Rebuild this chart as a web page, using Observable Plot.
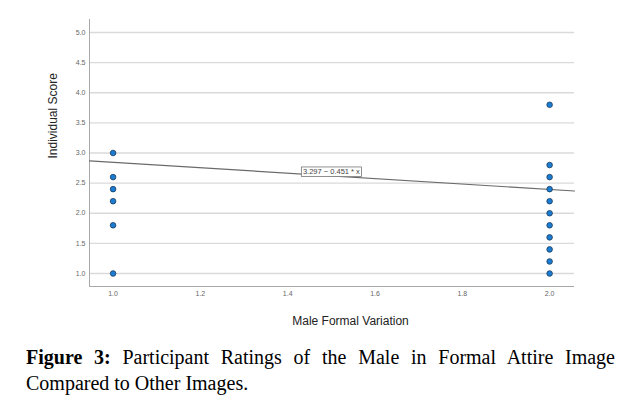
<!DOCTYPE html>
<html>
<head>
<meta charset="utf-8">
<script src="https://cdn.jsdelivr.net/npm/d3@7"></script>
<script src="https://cdn.jsdelivr.net/npm/@observablehq/plot@0.6"></script>
<style>
  body { margin: 0; background: #fff; width: 627px; height: 409px; position: relative; overflow: hidden; }
  #chart { position: absolute; left: 0; top: 0; }
  #caption { position: absolute; left: 26px; top: 343.5px; width: 589px; font-family: "Liberation Serif", "Times New Roman", serif; font-size: 20px; line-height: 26px; text-align: justify; color: #000; }
</style>
</head>
<body>
<div id="chart"></div>
<div id="caption"><b>Figure 3:</b> Participant Ratings of the Male in Formal Attire Image Compared to Other Images.</div>
<script>
// Data
const groupX = [1, 1, 1, 1, 1, 1, 2, 2, 2, 2, 2, 2, 2, 2, 2, 2, 2];
const scores = [3.0, 2.6, 2.4, 2.2, 1.8, 1.0, 3.8, 2.8, 2.6, 2.4, 2.2, 2.0, 1.8, 1.6, 1.4, 1.2, 1.0];
const fitIntercept = 3.297;
const fitSlope = -0.451;
const fitLabel = "3.297 − 0.451 * x";
const fitLabelX = 1.5;
const xTicks = [1.0, 1.2, 1.4, 1.6, 1.8, 2.0];
const yTicks = [1.0, 1.5, 2.0, 2.5, 3.0, 3.5, 4.0, 4.5, 5.0];
const xDomain = [0.946, 2.057];
const yDomain = [0.784, 5.216];

const points = groupX.map((x, i) => ({x, y: scores[i]}));
const fit = x => fitIntercept + fitSlope * x;
const fitLine = xDomain.map(x => ({x, y: fit(x)}));

const plot = Plot.plot({
  width: 627,
  height: 340,
  marginLeft: 89,
  marginRight: 53,
  marginTop: 19,
  marginBottom: 54,
  style: {fontFamily: "'Liberation Sans', Arial, sans-serif", background: "#fff"},
  x: {domain: xDomain, ticks: xTicks, tickFormat: d3.format(".1f")},
  y: {domain: yDomain, ticks: yTicks, tickFormat: d3.format(".1f")},
  marks: [
    Plot.ruleY(yTicks, {stroke: "#dadada", strokeWidth: 1.3}),
    Plot.ruleX([xDomain[0]], {stroke: "#a8a8a8", strokeWidth: 1}),
    Plot.ruleY([yDomain[0]], {stroke: "#a8a8a8", strokeWidth: 1}),
    Plot.axisX({ticks: xTicks, tickSize: 0, tickPadding: 5, fontSize: 7, color: "#666", label: null, tickFormat: d3.format(".1f")}),
    Plot.axisY({ticks: yTicks, tickSize: 0, tickPadding: 4, fontSize: 7, color: "#666", label: null, tickFormat: d3.format(".1f")}),
    Plot.line(fitLine, {x: "x", y: "y", stroke: "#6a6a6a", strokeWidth: 1.2}),
    Plot.dot(points, {x: "x", y: "y", r: 2.8, fill: "#1b7cd3", stroke: "#1c3b5a", strokeWidth: 0.8}),
    Plot.text([{x: fitLabelX, y: fit(fitLabelX)}], {x: "x", y: "y", text: () => fitLabel, dy: -4, fontSize: 7.5, fill: "#444"}),
    Plot.text(["Individual Score"], {frameAnchor: "left", text: d => d, rotate: -90, dx: -36, dy: 5.5, fontSize: 12, fill: "#222"}),
    Plot.text(["Male Formal Variation"], {frameAnchor: "bottom", text: d => d, dx: 18.5, dy: 38, fontSize: 12, fill: "#222"})
  ]
});
document.getElementById("chart").append(plot);

// box around the fit label
d3.select(plot).selectAll("text").each(function() {
  if (this.textContent !== fitLabel) return;
  const b = this.getBBox();
  const t = this.getAttribute("transform");
  const r = d3.select(this.parentNode).insert("rect", () => this)
    .attr("x", b.x - 1.5).attr("y", b.y - 0.3)
    .attr("width", b.width + 3).attr("height", b.height + 0.6)
    .attr("fill", "#fff").attr("stroke", "#777").attr("stroke-width", 0.8);
  if (t) r.attr("transform", t);
});
</script>
</body>
</html>
